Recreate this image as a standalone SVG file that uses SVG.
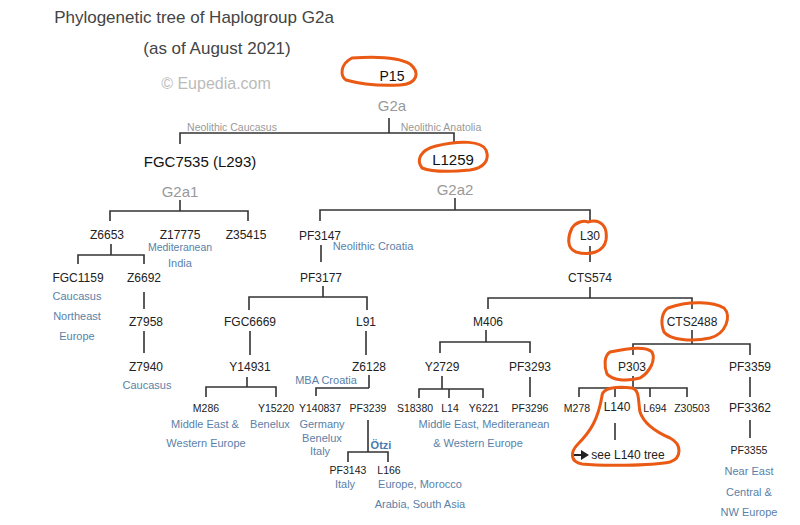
<svg xmlns="http://www.w3.org/2000/svg" width="800" height="525" viewBox="0 0 800 525">
<style>
text{font-family:"Liberation Sans",Arial,sans-serif;text-anchor:middle}
.n{font-size:12px;fill:#222}
.s{font-size:10.5px;fill:#222}
.b{font-size:15px;fill:#111}
.g{font-size:15px;fill:#999}
.l{font-size:11px;fill:#5a7fa8}
.c{font-size:10.5px;fill:#999}
.w path{fill:none;stroke:#333;stroke-width:1.6}
.o{fill:none;stroke:#ea5a14;stroke-width:3;stroke-linecap:round;stroke-linejoin:round}
</style>
<rect width="800" height="525" fill="#fff"/>
<g id="title">
<text x="194" y="23" style="font-size:17px;fill:#444">Phylogenetic tree of Haplogroup G2a</text>
<text x="217" y="54" style="font-size:17px;fill:#444">(as of August 2021)</text>
<text x="216" y="89" style="font-size:16px;fill:#bbb">© Eupedia.com</text>
</g>
<g id="connectors" class="w">
<path d="M389 118V133M180 144V133H454V142"/>
<path d="M180 200V211M110 221V211H248V221"/>
<path d="M111 244V255M78 264V255H144V264M144 292V309M144 331V353"/>
<path d="M455 198V210M320 221V210H590V222"/>
<path d="M321 245V262M323 286V297M249 310V297H367V310M250 331V355M366 331V355"/>
<path d="M247 377V387M206 397V387H276V397"/>
<path d="M369 375V388M316 396V388H369"/>
<path d="M368 420V452M348 462V452H388V462"/>
<path d="M590 246V262M590 287V298M488 309V298H692V309"/>
<path d="M486 330V342M440 353V342H530V353M442 376V389M419 398V389H483V398M449 389V398M530 377V397"/>
<path d="M692 330V344M633 355V344H750V355M633 376V388M579 397V388H687V397M615 388V397M650 388V397"/>
<path d="M615 423V440M750 377V397M750 420V438"/>
</g>
<g id="P15"><text class="b" x="392" y="81" style="font-size:14px">P15</text><text class="g" x="392" y="111">G2a</text></g>
<g id="branchlabels"><text class="c" x="232" y="131">Neolithic Caucasus</text><text class="c" x="441" y="131">Neolithic Anatolia</text></g>
<g id="FGC7535"><text class="b" x="200" y="167">FGC7535 (L293)</text><text class="g" x="180" y="197">G2a1</text></g>
<g id="L1259"><text class="b" x="453" y="165">L1259</text><text class="g" x="455" y="195">G2a2</text></g>
<g id="Z6653"><text class="n" x="107" y="239">Z6653</text></g>
<g id="Z17775"><text class="n" x="180" y="239">Z17775</text><text class="l" x="180" y="251" style="font-size:10.5px">Mediteranean</text><text class="l" x="180" y="267">India</text></g>
<g id="Z35415"><text class="n" x="246" y="239">Z35415</text></g>
<g id="FGC1159"><text class="n" x="78" y="282">FGC1159</text><text class="l" x="77" y="300">Caucasus</text><text class="l" x="77" y="320">Northeast</text><text class="l" x="77" y="340">Europe</text></g>
<g id="Z6692"><text class="n" x="144" y="282">Z6692</text></g>
<g id="Z7958"><text class="n" x="146" y="326">Z7958</text></g>
<g id="Z7940"><text class="n" x="146" y="371">Z7940</text><text class="l" x="147" y="389">Caucasus</text></g>
<g id="PF3147"><text class="n" x="320" y="240">PF3147</text><text class="l" x="373" y="250">Neolithic Croatia</text></g>
<g id="PF3177"><text class="n" x="321" y="282">PF3177</text></g>
<g id="FGC6669"><text class="n" x="250" y="326">FGC6669</text></g>
<g id="L91"><text class="n" x="366" y="326">L91</text></g>
<g id="Y14931"><text class="n" x="250" y="371">Y14931</text></g>
<g id="Z6128"><text class="n" x="369" y="371">Z6128</text><text class="l" x="326" y="384">MBA Croatia</text></g>
<g id="M286"><text class="s" x="206" y="412">M286</text><text class="l" x="205" y="428">Middle East &amp;</text><text class="l" x="206" y="447">Western Europe</text></g>
<g id="Y15220"><text class="s" x="276" y="412">Y15220</text><text class="l" x="270" y="428">Benelux</text></g>
<g id="Y140837"><text class="s" x="320" y="412">Y140837</text><text class="l" x="322" y="428">Germany</text><text class="l" x="322" y="442">Benelux</text><text class="l" x="320" y="455">Italy</text></g>
<g id="PF3239"><text class="s" x="368" y="412">PF3239</text><text class="l" x="381" y="449" style="font-weight:bold;fill:#4a78b0">Ötzi</text></g>
<g id="PF3143"><text class="s" x="348" y="474">PF3143</text><text class="l" x="345" y="488">Italy</text></g>
<g id="L166"><text class="s" x="389" y="474">L166</text><text class="l" x="420" y="488">Europe, Morocco</text><text class="l" x="420" y="508">Arabia, South Asia</text></g>
<g id="L30"><text class="n" x="590" y="240">L30</text></g>
<g id="CTS574"><text class="n" x="590" y="282">CTS574</text></g>
<g id="M406"><text class="n" x="488" y="326">M406</text></g>
<g id="CTS2488"><text class="n" x="692" y="326">CTS2488</text></g>
<g id="Y2729"><text class="n" x="442" y="371">Y2729</text></g>
<g id="PF3293"><text class="n" x="530" y="371">PF3293</text></g>
<g id="S18380"><text class="s" x="415" y="412">S18380</text></g>
<g id="L14"><text class="s" x="450" y="412">L14</text></g>
<g id="Y6221"><text class="s" x="484" y="412">Y6221</text><text class="l" x="484" y="428">Middle East, Mediteranean</text><text class="l" x="478" y="447">&amp; Western Europe</text></g>
<g id="PF3296"><text class="s" x="530" y="412">PF3296</text></g>
<g id="P303"><text class="n" x="632" y="371">P303</text></g>
<g id="PF3359"><text class="n" x="750" y="371">PF3359</text></g>
<g id="M278"><text class="s" x="577" y="412">M278</text></g>
<g id="L140"><text class="n" x="617" y="411">L140</text></g>
<g id="L694"><text class="s" x="655" y="412">L694</text></g>
<g id="Z30503"><text class="s" x="692" y="412">Z30503</text></g>
<g id="seeL140"><path d="M574 454h7v-4l8 5-8 5v-4h-7z" fill="#222"/><text class="n" x="628" y="459">see L140 tree</text></g>
<g id="PF3362"><text class="n" x="750" y="412">PF3362</text></g>
<g id="PF3355"><text class="s" x="749" y="454">PF3355</text><text class="l" x="749" y="475">Near East</text><text class="l" x="749" y="496">Central &amp;</text><text class="l" x="749" y="516">NW Europe</text></g>
<g id="annotations">
<path class="o" d="M352 58C380 56 400 58 410 64C420 72 418 84 400 85C380 86 360 84 346 80C340 76 340 64 352 58Z"/>
<path class="o" d="M436 146C460 140 482 141 486 150C490 160 484 168 470 170C450 172 432 172 422 168C416 160 420 150 436 146"/>
<path class="o" d="M588 222C600 218 608 226 606 240C604 252 590 256 576 252C566 248 568 236 572 228C576 222 584 220 588 222"/>
<path class="o" d="M668 308C690 300 714 302 724 308C732 316 726 334 710 338C692 342 670 340 664 332C660 322 662 312 668 308"/>
<path class="o" d="M610 352C628 348 646 346 652 352C656 360 650 372 640 378C626 382 612 380 607 374C604 366 604 356 610 352"/>
<path class="o" d="M602 396C602 388 616 386 632 388C640 390 638 402 640 412C644 424 656 432 670 438C682 444 682 458 670 462C650 466 600 466 582 464C570 462 570 452 578 444C590 432 598 420 602 396Z"/>
</g>
</svg>
